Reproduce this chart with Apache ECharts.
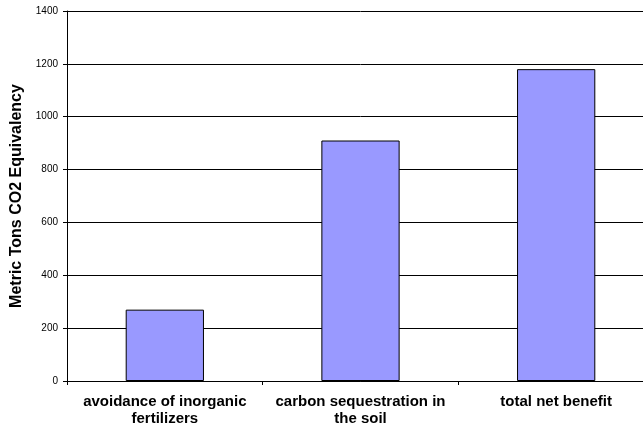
<!DOCTYPE html>
<html>
<head>
<meta charset="utf-8">
<script src="https://cdn.jsdelivr.net/npm/echarts@6/dist/echarts.min.js"></script>
<style>
html,body{margin:0;padding:0;background:#fff;overflow:hidden;width:643px;height:425px;}
#c{width:656px;height:425px;}
</style>
</head>
<body>
<div id="c"></div>
<script>
const categories = ['avoidance of inorganic\nfertilizers', 'carbon sequestration in\nthe soil', 'total net benefit'];
const values = [270, 910, 1180];
const yTicks = [0, 200, 400, 600, 800, 1000, 1200, 1400];

const chart = echarts.init(document.getElementById('c'));
chart.setOption({
  animation: false,
  grid: { left: 67, right: 2, top: 11, bottom: 44, containLabel: false, outerBoundsMode: 'none' },
  xAxis: {
    type: 'category',
    data: categories,
    axisLine: { show: true, lineStyle: { color: '#000', width: 1 } },
    axisTick: { show: true, length: 4, inside: false, interval: 0, lineStyle: { color: '#000' } },
    axisLabel: {
      interval: 0, hideOverlap: false,
      fontFamily: 'Liberation Sans, Arial, sans-serif',
      fontWeight: 'bold', fontSize: 15, color: '#000', lineHeight: 17, margin: 12
    }
  },
  yAxis: {
    type: 'value',
    min: yTicks[0], max: yTicks[yTicks.length - 1], interval: 200,
    name: 'Metric Tons CO2 Equivalency',
    nameLocation: 'middle', nameGap: 41,
    nameTextStyle: { fontFamily: 'Liberation Sans, Arial, sans-serif', fontWeight: 'bold', fontSize: 16, color: '#000' },
    axisLine: { show: true, lineStyle: { color: '#000', width: 1 } },
    axisTick: { show: true, length: 4, lineStyle: { color: '#000' } },
    axisLabel: { fontFamily: 'Liberation Sans, Arial, sans-serif', fontSize: 10, color: '#000', margin: 9,
      formatter: function (v) { return String(v); } },
    splitLine: { show: true, lineStyle: { color: '#000', width: 1 } }
  },
  series: [{
    type: 'bar',
    data: values,
    barWidth: '40%',
    itemStyle: { color: '#9999FF', borderColor: '#000', borderWidth: 1 }
  }]
});
</script>
</body>
</html>
